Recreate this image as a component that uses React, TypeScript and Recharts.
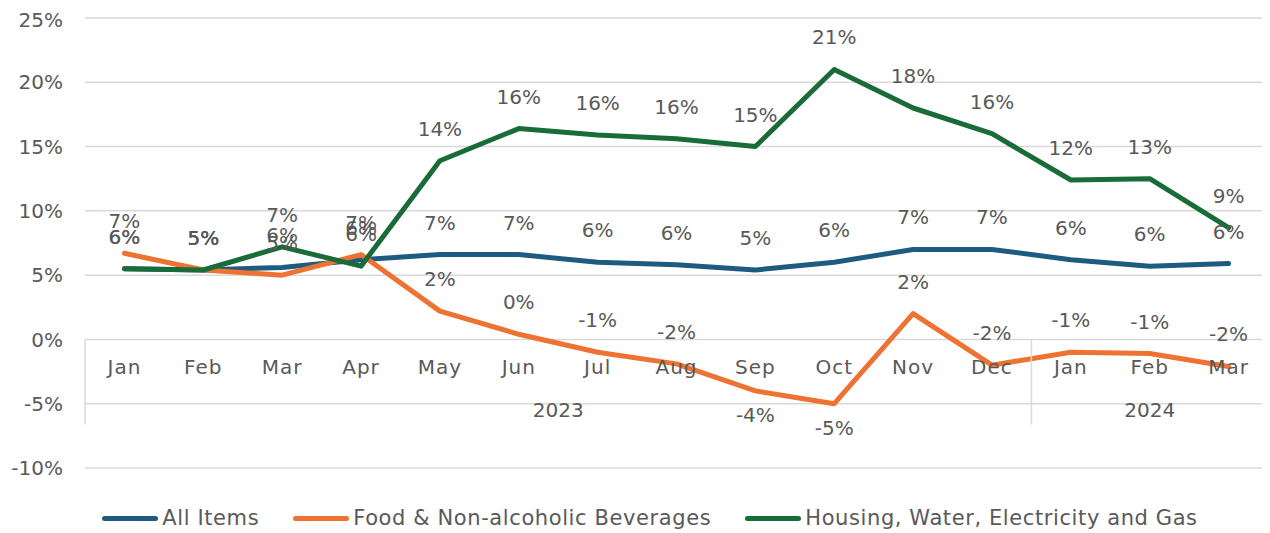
import React from 'react';
import { LineChart, Line, XAxis, YAxis, CartesianGrid, Legend, LabelList } from 'recharts';

// ---- data ----
const months = ['Jan', 'Feb', 'Mar', 'Apr', 'May', 'Jun', 'Jul', 'Aug', 'Sep', 'Oct', 'Nov', 'Dec', 'Jan', 'Feb', 'Mar'];
const yearLabels = ['2023', '2024'];
const yearSpans = [12, 3];

const allItems = [5.5, 5.4, 5.6, 6.2, 6.6, 6.6, 6.0, 5.8, 5.4, 6.0, 7.0, 7.0, 6.2, 5.7, 5.9];
const foodBeverages = [6.7, 5.4, 5.0, 6.6, 2.2, 0.4, -1.0, -1.9, -4.0, -5.0, 2.0, -2.0, -1.0, -1.1, -2.1];
const housingUtilities = [5.5, 5.4, 7.2, 5.7, 13.9, 16.4, 15.9, 15.6, 15.0, 21.0, 18.0, 16.0, 12.4, 12.5, 8.7];

const yTicks = [-10, -5, 0, 5, 10, 15, 20, 25];

const seriesNames = ['All Items', 'Food & Non-alcoholic Beverages', 'Housing, Water, Electricity and Gas'];
const seriesKeys = ['all', 'food', 'housing'];
const seriesValues = [allItems, foodBeverages, housingUtilities];
const seriesColors = ['#1D5C80', '#EE7231', '#196C38'];

const data = months.map((m, i) => ({
  period: `${m}-${i}`,
  all: allItems[i],
  food: foodBeverages[i],
  housing: housingUtilities[i],
}));

// ---- layout ----
const FONT = '"DejaVu Sans", sans-serif';
const TEXT = '#595959';
const GRID = '#d9d9d9';
const CHART_W = 1262;
const CHART_H = 525;
const MARGIN = { top: 10, right: 2, bottom: 0, left: 0 };
const Y_AXIS_W = 77;
const X_AXIS_H = 35;
const LEGEND_H = 30;
const PLOT_LEFT = MARGIN.left + Y_AXIS_W;
const PLOT_W = CHART_W - MARGIN.right - PLOT_LEFT;
const PLOT_TOP = MARGIN.top;
const PLOT_H = CHART_H - MARGIN.top - MARGIN.bottom - X_AXIS_H - LEGEND_H;
const Y_MIN = -10;
const Y_MAX = 25;
const ZERO_Y = PLOT_TOP + (PLOT_H * Y_MAX) / (Y_MAX - Y_MIN);
const BAND = PLOT_W / months.length;

const groupStarts = yearSpans.map((_, g) => yearSpans.slice(0, g).reduce((a, b) => a + b, 0));

const MonthTick = (props: any) => {
  const { x, index } = props;
  const els: React.ReactNode[] = [];
  els.push(
    <text key="m" x={x} y={ZERO_Y + 35} textAnchor="middle" fill={TEXT} fontSize={20} letterSpacing={1} fontFamily={FONT}>
      {months[index]}
    </text>
  );
  groupStarts.forEach((start, g) => {
    if (index === start) {
      const lx = x - BAND / 2;
      els.push(<line key={`l${g}`} x1={lx} x2={lx} y1={ZERO_Y} y2={ZERO_Y + 85} stroke={GRID} strokeWidth={1.5} />);
      els.push(
        <text key={`y${g}`} x={lx + (yearSpans[g] * BAND) / 2} y={ZERO_Y + 78} textAnchor="middle" fill={TEXT} fontSize={20} fontFamily={FONT}>
          {yearLabels[g]}
        </text>
      );
    }
  });
  if (index === months.length - 1) {
    const rx = x + BAND / 2;
    els.push(<line key="r" x1={rx} x2={rx} y1={ZERO_Y} y2={ZERO_Y + 85} stroke={GRID} strokeWidth={1.5} />);
  }
  return <g>{els}</g>;
};

const makeLabel = (values: number[]) => (props: any) => {
  const { x, y, index } = props;
  const v = values[index];
  const below = v < -3;
  return (
    <text x={x} y={below ? y + 31 : y - 25} textAnchor="middle" fill={TEXT} fontSize={20} fontFamily={FONT}>
      {`${Math.round(v)}%`}
    </text>
  );
};

const LegendContent = () => (
  <div
    style={{
      display: 'flex',
      justifyContent: 'center',
      alignItems: 'center',
      height: LEGEND_H,
      paddingLeft: 24,
      fontFamily: FONT,
      fontSize: 21,
      letterSpacing: 0.6,
      color: TEXT,
    }}
  >
    {seriesNames.map((n, i) => (
      <div key={n} style={{ display: 'flex', alignItems: 'center', marginRight: i < seriesNames.length - 1 ? 34 : 0 }}>
        <div style={{ width: 56, height: 5, borderRadius: 3, background: seriesColors[i], marginRight: 4 }} />
        <span>{n}</span>
      </div>
    ))}
  </div>
);

export default function App() {
  return (
    <div style={{ width: CHART_W, height: CHART_H }}>
      <LineChart width={CHART_W} height={CHART_H} data={data} margin={MARGIN}>
        <CartesianGrid vertical={false} stroke={GRID} strokeWidth={1.5} />
        <XAxis
          dataKey="period"
          height={X_AXIS_H}
          axisLine={false}
          tickLine={false}
          interval={0}
          padding={{ left: BAND / 2, right: BAND / 2 }}
          tick={MonthTick}
        />
        <YAxis
          width={Y_AXIS_W}
          domain={[Y_MIN, Y_MAX]}
          ticks={yTicks}
          axisLine={false}
          tickLine={false}
          tickSize={0}
          tickMargin={22}
          tickFormatter={(v: number) => `${v}%`}
          tick={{ fill: TEXT, fontSize: 20, fontFamily: FONT }}
        />
        <Legend verticalAlign="bottom" height={LEGEND_H} content={<LegendContent />} />
        {seriesKeys.map((k, i) => (
          <Line
            key={k}
            dataKey={k}
            name={seriesNames[i]}
            stroke={seriesColors[i]}
            strokeWidth={5}
            strokeLinecap="round"
            strokeLinejoin="round"
            dot={false}
            activeDot={false}
            isAnimationActive={false}
          >
            <LabelList dataKey={k} content={makeLabel(seriesValues[i])} />
          </Line>
        ))}
      </LineChart>
    </div>
  );
}
